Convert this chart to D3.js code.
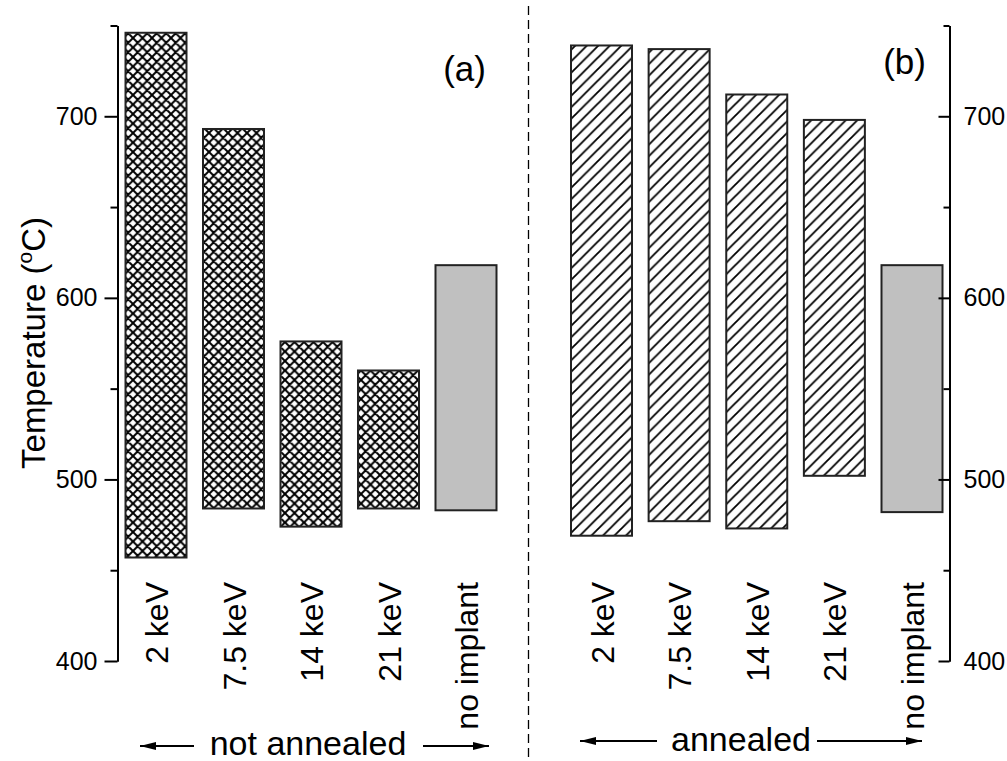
<!DOCTYPE html>
<html>
<head>
<meta charset="utf-8">
<script src="https://cdn.jsdelivr.net/npm/d3@7"></script>
<style>
  html, body { margin: 0; padding: 0; background: #fff; }
  svg text { font-family: "Liberation Sans", Arial, Helvetica, sans-serif; fill: #000; }
</style>
</head>
<body>
<svg id="chart" width="1007" height="761"></svg>
<script>
// ---- data ----
const categories = ["2 keV", "7.5 keV", "14 keV", "21 keV", "no implant"];
const notAnnealedLow  = [457, 484, 474, 484, 483];
const notAnnealedHigh = [746, 693, 576, 560, 618];
const annealedLow     = [469, 477, 473, 502, 482];
const annealedHigh    = [739, 737, 712, 698, 618];
const yTicksMajor = [400, 500, 600, 700];
const yTicksMinor = [450, 550, 650, 750];
const panelLabels = ["(a)", "(b)"];
const groupLabels = ["not annealed", "annealed"];

// ---- setup ----
const svg = d3.select("#chart");
const W = 1007, H = 761;
svg.append("rect").attr("width", W).attr("height", H).attr("fill", "#fff");

const y = d3.scaleLinear().domain([400, 750]).range([661, 25.5]);
const xL = d3.scalePoint().domain(categories).range([156, 466]);
const xR = d3.scalePoint().domain(categories).range([601.5, 912]);
const barW = 61;

const defs = svg.append("defs");
const cross = defs.append("pattern").attr("id", "cross")
  .attr("patternUnits", "userSpaceOnUse").attr("width", 9.5).attr("height", 9.5);
cross.append("rect").attr("width", 9.5).attr("height", 9.5).attr("fill", "#fff");
cross.append("path").attr("d", "M0,0L9.5,9.5M9.5,0L0,9.5M-1,1L1,-1M8.5,10.5L10.5,8.5M-1,8.5L1,10.5M8.5,-1L10.5,1")
  .attr("stroke", "#000").attr("stroke-width", 2).attr("fill", "none");

const hatch = defs.append("pattern").attr("id", "hatch")
  .attr("patternUnits", "userSpaceOnUse").attr("width", 11.5).attr("height", 11.5);
hatch.append("rect").attr("width", 11.5).attr("height", 11.5).attr("fill", "#fff");
hatch.append("path").attr("d", "M0,11.5L11.5,0M-2,2L2,-2M9.5,13.5L13.5,9.5")
  .attr("stroke", "#000").attr("stroke-width", 1.8).attr("fill", "none");

defs.append("marker").attr("id", "arrow")
  .attr("viewBox", "0 0 16 8").attr("refX", 16).attr("refY", 4)
  .attr("markerUnits", "userSpaceOnUse")
  .attr("markerWidth", 16).attr("markerHeight", 8).attr("orient", "auto")
  .append("path").attr("d", "M0,0L16,4L0,8Z").attr("fill", "#000");

function drawBars(x, low, high, isAnnealed) {
  const g = svg.append("g");
  const last = categories.length - 1;
  g.selectAll("rect").data(categories).join("rect")
    .attr("x", d => x(d) - barW / 2)
    .attr("width", barW)
    .attr("y", (d, i) => y(high[i]))
    .attr("height", (d, i) => y(low[i]) - y(high[i]))
    .attr("fill", (d, i) => i === last ? "#c0c0c0" : (isAnnealed ? "url(#hatch)" : "url(#cross)"))
    .attr("stroke", "#222").attr("stroke-width", 2);
  g.selectAll("text").data(categories).join("text")
    .attr("transform", d => `translate(${x(d) + 12},582) rotate(-90)`)
    .attr("text-anchor", "end")
    .attr("font-size", 32)
    .text(d => d);
}
drawBars(xL, notAnnealedLow, notAnnealedHigh, false);
drawBars(xR, annealedLow, annealedHigh, true);

// ---- axes ----
function styleAxis(g) {
  g.selectAll("path.domain").attr("stroke", "#000").attr("stroke-width", 2);
  g.selectAll(".tick line").attr("stroke", "#000").attr("stroke-width", 2);
  g.selectAll(".tick text").attr("font-size", 25).attr("font-family", "Liberation Sans, Arial, sans-serif");
}
// left
const axL = svg.append("g").attr("transform", "translate(117.5,0)")
  .call(d3.axisLeft(y).tickValues(yTicksMajor).tickSize(13).tickPadding(7).tickSizeOuter(0));
styleAxis(axL);
const axLm = svg.append("g").attr("transform", "translate(117.5,0)")
  .call(d3.axisLeft(y).tickValues(yTicksMinor).tickSize(7).tickFormat("").tickSizeOuter(0));
styleAxis(axLm);
// right (ticks point inward)
const axR = svg.append("g").attr("transform", "translate(949.5,0)")
  .call(d3.axisRight(y).tickValues(yTicksMajor).tickSize(0).tickPadding(14).tickSizeOuter(0));
styleAxis(axR);
axR.selectAll(".tick line").attr("x2", -11);
const axRm = svg.append("g").attr("transform", "translate(949.5,0)")
  .call(d3.axisRight(y).tickValues(yTicksMinor).tickSize(0).tickFormat("").tickSizeOuter(0));
styleAxis(axRm);
axRm.selectAll(".tick line").attr("x2", -6);

// y label
const yl = svg.append("text")
  .attr("transform", "translate(45,343) rotate(-90)")
  .attr("text-anchor", "middle").attr("font-size", 33);
yl.append("tspan").text("Temperature (");
yl.append("tspan").attr("font-size", 21).attr("dy", -13).text("o");
yl.append("tspan").attr("dy", 13).text("C)");

// panel labels
svg.append("text").attr("x", 486).attr("y", 81).attr("text-anchor", "end")
  .attr("font-size", 35).text(panelLabels[0]);
svg.append("text").attr("x", 926).attr("y", 74).attr("text-anchor", "end")
  .attr("font-size", 35).text(panelLabels[1]);

// divider
svg.append("line").attr("x1", 528.5).attr("x2", 528.5).attr("y1", 6).attr("y2", 761)
  .attr("stroke", "#000").attr("stroke-width", 1.3).attr("stroke-dasharray", "9,5");

// group labels with arrows
svg.append("text").attr("x", 308).attr("y", 755).attr("text-anchor", "middle")
  .attr("font-size", 34).text(groupLabels[0]);
svg.append("text").attr("x", 741).attr("y", 751).attr("text-anchor", "middle")
  .attr("font-size", 34).text(groupLabels[1]);
const arrows = [
  [194, 746, 140, 746], [423, 746, 489, 746],
  [657, 741, 580, 741], [817, 741, 922, 741]
];
svg.selectAll("line.arr").data(arrows).join("line").attr("class", "arr")
  .attr("x1", d => d[0]).attr("y1", d => d[1]).attr("x2", d => d[2]).attr("y2", d => d[3])
  .attr("stroke", "#000").attr("stroke-width", 1.8).attr("marker-end", "url(#arrow)");
</script>
</body>
</html>
